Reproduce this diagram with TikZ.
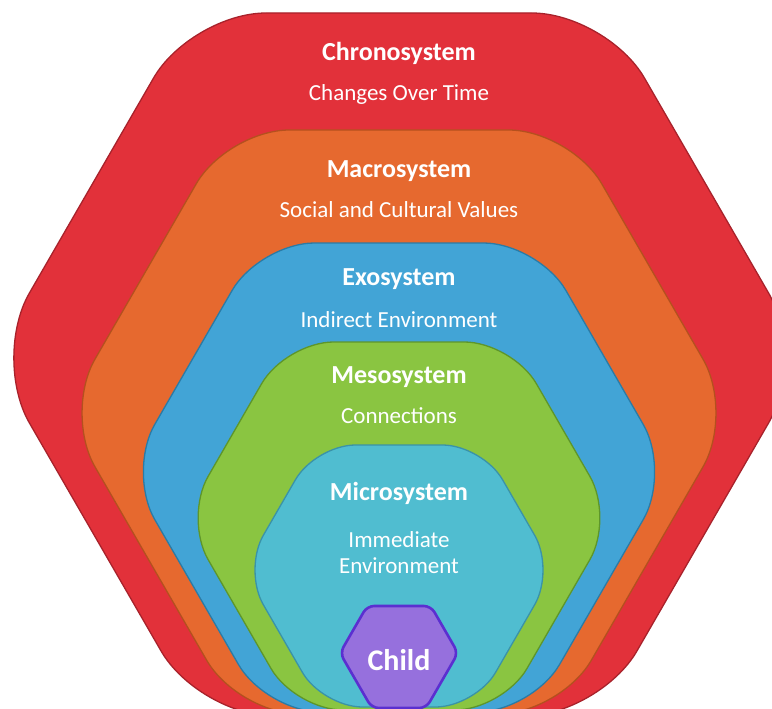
\documentclass[tikz,border=0pt]{standalone}
\usepackage{fontspec}
\setmainfont{Carlito}

\definecolor{chronofill}{RGB}{226,49,58}
\definecolor{chronoline}{RGB}{168,34,43}
\definecolor{macrofill}{RGB}{230,105,47}
\definecolor{macroline}{RGB}{180,80,30}
\definecolor{exofill}{RGB}{66,164,214}
\definecolor{exoline}{RGB}{42,123,166}
\definecolor{mesofill}{RGB}{138,197,65}
\definecolor{mesoline}{RGB}{94,150,42}
\definecolor{microfill}{RGB}{80,189,208}
\definecolor{microline}{RGB}{58,147,168}
\definecolor{childfill}{RGB}{150,112,221}
\definecolor{childline}{RGB}{91,47,208}

\tikzset{
    layer/.style={line width=1.3pt, rounded corners=#1},
    title/.style={text=white, anchor=base, inner sep=0pt, font=\fontsize{26}{31}\selectfont\bfseries},
    subtitle/.style={text=white, anchor=base, inner sep=0pt, font=\fontsize{23}{26}\selectfont}
}

\begin{document}
\begin{tikzpicture}[x=1pt, y=-1pt]
        \useasboundingbox (0, 0) rectangle (772, 709);
        \clip (0, 0) rectangle (772, 709);
        
        % Chronosystem
        \filldraw[layer=75, fill=chronofill, draw=chronoline] (399, 13) -- (606.9, 13) -- (806.1, 358) -- (599.4, 716) -- (198.6, 716) -- (-8.1, 358) -- (191.1, 13) -- cycle;
        
        % Macrosystem
        \filldraw[layer=62, fill=macrofill, draw=macroline] (399, 130) -- (570.7, 130) -- (734.1, 413) -- (560.3, 714) -- (237.7, 714) -- (63.9, 413) -- (227.3, 130) -- cycle;
        
        % Exosystem
        \filldraw[layer=55, fill=exofill, draw=exoline] (399, 243) -- (538.5, 243) -- (670.7, 472) -- (532.1, 712) -- (265.9, 712) -- (127.3, 472) -- (259.5, 243) -- cycle;
        
        % Mesosystem
        \filldraw[layer=48, fill=mesofill, draw=mesoline] (399, 342) -- (512.3, 342) -- (613.9, 518) -- (503, 710) -- (295, 710) -- (184.1, 518) -- (285.7, 342) -- cycle;
        
        % Microsystem
        \filldraw[layer=40, fill=microfill, draw=microline] (399, 445) -- (482.5, 445) -- (554.7, 570) -- (475.6, 707) -- (322.4, 707) -- (243.3, 570) -- (315.5, 445) -- cycle;
        
        % Child
        \filldraw[layer=7, fill=childfill, draw=childline, line width=2.6pt] (399, 606) -- (430.9, 606) -- (458, 653) -- (426.2, 708) -- (371.8, 708) -- (340, 653) -- (367.1, 606) -- cycle;
        
        % Labels
        \node[title] (chrono) at (399, 61) {Chronosystem};
        \node[subtitle] (chronosub) at (399, 101) {Changes Over Time};
        
        \node[title] (macro) at (399, 177) {Macrosystem};
        \node[subtitle] (macrosub) at (399, 217) {Social and Cultural Values};
        
        \node[title] (exo) at (399, 285) {Exosystem};
        \node[subtitle] (exosub) at (399, 327) {Indirect Environment};
        
        \node[title] (meso) at (399, 383) {Mesosystem};
        \node[subtitle] (mesosub) at (399, 423) {Connections};
        
        \node[title] (micro) at (399, 500) {Microsystem};
        \node[subtitle] (microsub) at (399, 547) {Immediate};
        \node[subtitle] (microsubb) at (399, 573) {Environment};
        
        \node[title, font=\fontsize{30}{36}\selectfont\bfseries] (child) at (399, 670) {Child};
    \end{tikzpicture}
\end{document}
